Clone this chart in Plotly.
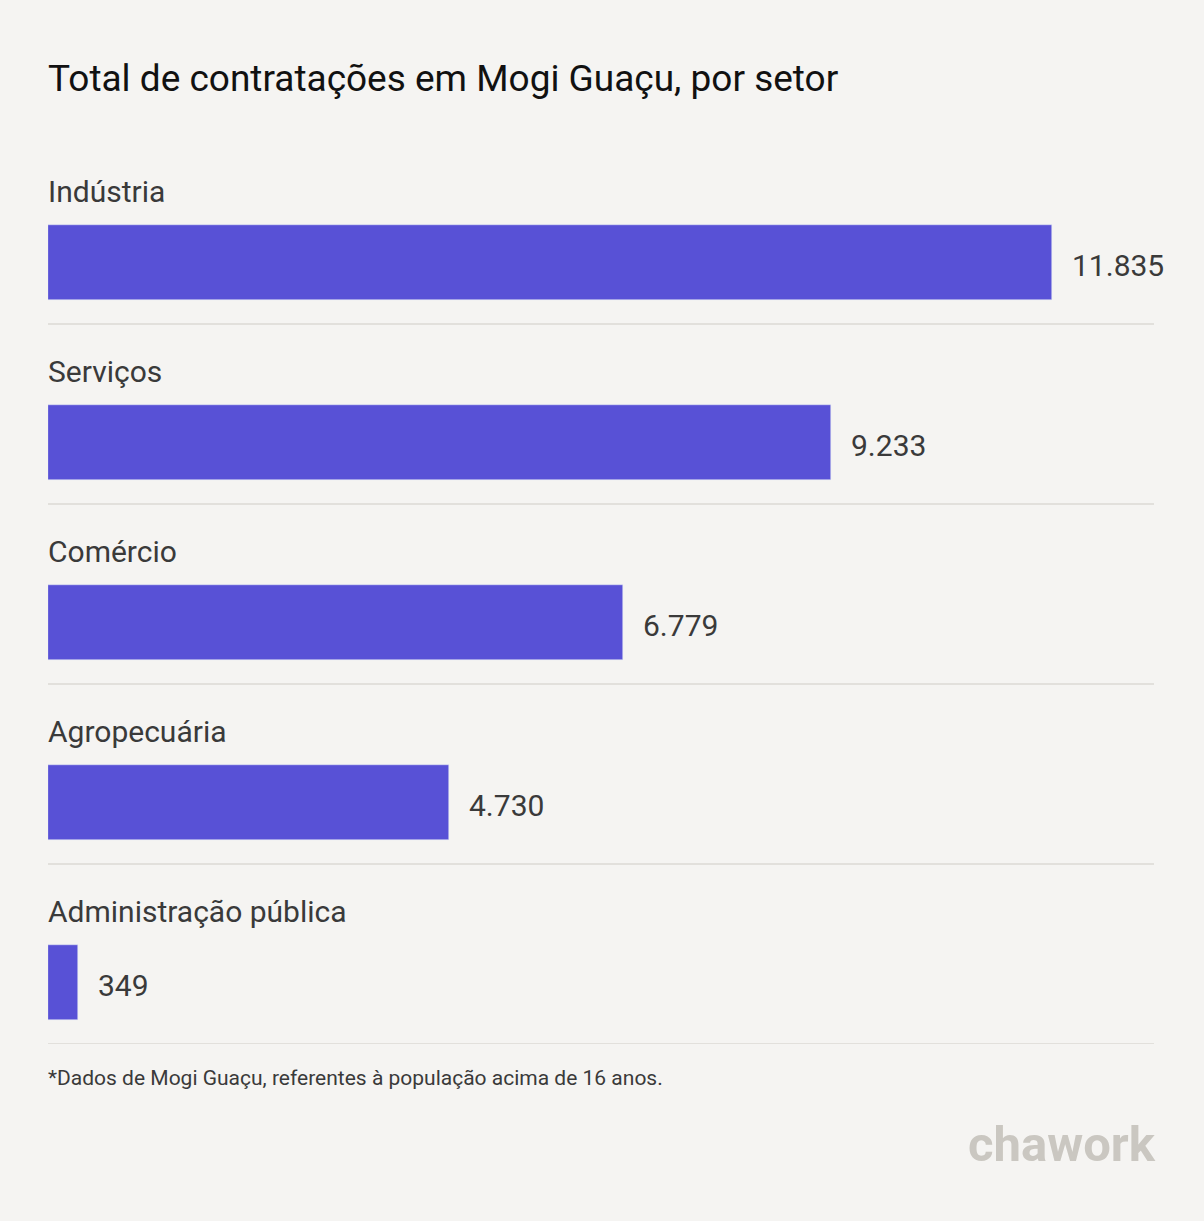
import plotly.graph_objects as go

# data
setores = ["Indústria", "Serviços", "Comércio", "Agropecuária", "Administração pública"]
contratacoes = [11835, 9233, 6779, 4730, 349]

titulo = "Total de contratações em Mogi Guaçu, por setor"
nota = "*Dados de Mogi Guaçu, referentes à população acima de 16 anos."

COLORS = {
    "bar": "#5851D6",
    "bg": "#F5F4F2",
    "title": "#111111",
    "text": "#3A3A3A",
    "line": "#E2E0DC",
    "logo": "#CAC7C1",
}
FONT = "Roboto, Arial, sans-serif"


def fmt(v):
    return f"{v:,}".replace(",", ".")


fig = go.Figure()
fig.add_trace(go.Bar(
    x=contratacoes,
    y=setores,
    orientation="h",
    marker_color=COLORS["bar"],
    width=75 / 180,
    offset=-0.05,
    hoverinfo="skip",
))

annotations = []
for s, v in zip(setores, contratacoes):
    # category label above bar
    annotations.append(dict(
        x=0, y=s, xref="x", yref="y", text=s, showarrow=False,
        xanchor="left", yanchor="middle", xshift=-2, yshift=43,
        font=dict(family=FONT, size=30, color=COLORS["text"]),
    ))
    # value label at bar end
    annotations.append(dict(
        x=v, y=s, xref="x", yref="y", text=fmt(v), showarrow=False,
        xanchor="left", yanchor="middle", xshift=18, yshift=-31,
        font=dict(family=FONT, size=30, color=COLORS["text"]),
    ))

annotations.append(dict(
    x=0, y=0, xref="paper", yref="paper", text=nota, showarrow=False,
    xanchor="left", yanchor="middle", xshift=-2, yshift=-34,
    font=dict(family=FONT, size=21, color=COLORS["text"]),
))
annotations.append(dict(
    x=1, y=0, xref="paper", yref="paper", text="<b>chawork</b>", showarrow=False,
    xanchor="right", yanchor="middle", xshift=4, yshift=-100,
    font=dict(family=FONT, size=49, color=COLORS["logo"]),
))

shapes = [
    dict(type="line", xref="paper", x0=0, x1=1, yref="y", y0=i + 0.5, y1=i + 0.5,
         line=dict(color=COLORS["line"], width=2), layer="below")
    for i in range(len(setores))
]

x_max = max(contratacoes) * 1106 / 1004

fig.update_layout(
    width=1204,
    height=1221,
    paper_bgcolor=COLORS["bg"],
    plot_bgcolor=COLORS["bg"],
    margin=dict(l=48, r=50, t=144, b=177),
    showlegend=False,
    title=dict(
        text=titulo, x=0, xref="paper", xanchor="left",
        y=1 - 78 / 1221, yref="container", yanchor="middle",
        font=dict(family=FONT, size=37, color=COLORS["title"]),
    ),
    xaxis=dict(range=[0, x_max], visible=False, fixedrange=True),
    yaxis=dict(
        categoryorder="array", categoryarray=setores,
        range=[len(setores) - 0.5, -0.5], visible=False, fixedrange=True,
    ),
    annotations=annotations,
    shapes=shapes,
    bargap=0,
)

fig.write_html(
    "out.html",
    config={"displayModeBar": False},
    post_script="document.body.style.margin='0px';",
)
